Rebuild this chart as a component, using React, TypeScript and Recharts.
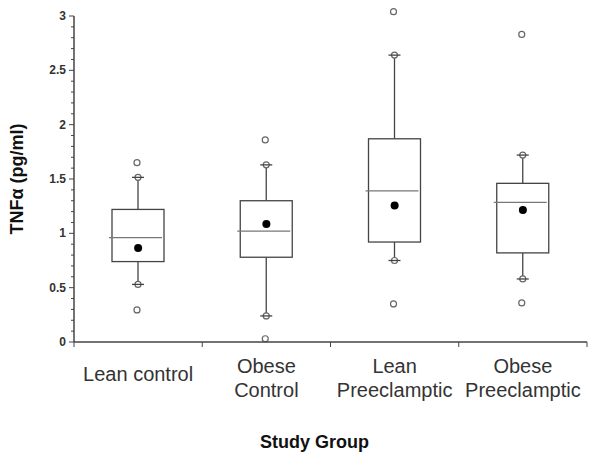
import React from 'react';
import { ComposedChart, Bar, Scatter, XAxis, YAxis } from 'recharts';

const CATEGORIES = ['Lean control', 'Obese\nControl', 'Lean\nPreeclamptic', 'Obese\nPreeclamptic'];
const Q1 = [0.74, 0.78, 0.92, 0.82];
const Q3 = [1.22, 1.3, 1.87, 1.46];
const MEDIAN = [0.96, 1.02, 1.39, 1.285];
const MEAN = [0.865, 1.085, 1.255, 1.215];
const WHISKER_LOW = [0.53, 0.24, 0.75, 0.58];
const WHISKER_HIGH = [1.515, 1.63, 2.64, 1.72];
const OUTLIER_LOW = [0.295, 0.03, 0.35, 0.36];
const OUTLIER_HIGH = [1.65, 1.86, 3.04, 2.83];

const Y_TICKS = [
  0, 0.1, 0.2, 0.3, 0.4, 0.5, 0.6, 0.7, 0.8, 0.9, 1, 1.1, 1.2, 1.3, 1.4, 1.5,
  1.6, 1.7, 1.8, 1.9, 2, 2.1, 2.2, 2.3, 2.4, 2.5, 2.6, 2.7, 2.8, 2.9, 3,
];
// category boundaries (integers) and category centres (halves)
const X_TICKS = [0, 0.5, 1, 1.5, 2, 2.5, 3, 3.5, 4];

const data = CATEGORIES.map((name, i) => ({
  name,
  pos: i + 0.5,
  base: Q1[i],
  iqr: Q3[i] - Q1[i],
  q1: Q1[i],
  q3: Q3[i],
  median: MEDIAN[i],
  mean: MEAN[i],
  wLow: WHISKER_LOW[i],
  wHigh: WHISKER_HIGH[i],
  oLow: OUTLIER_LOW[i],
  oHigh: OUTLIER_HIGH[i],
}));

const FONT = '"Liberation Sans", Arial, sans-serif';
const LINE = '#444';

const BoxShape = (props: any) => {
  const { x, y, width, height, payload } = props;
  if (payload == null || !height) return null;
  const k = height / (payload.q3 - payload.q1);
  const bottom = y + height;
  const py = (v: number) => bottom - (v - payload.q1) * k;
  const cx = x + width / 2;
  const capW = 6;
  return (
    <g>
      <line x1={cx} x2={cx} y1={py(payload.q3)} y2={py(payload.wHigh)} stroke={LINE} strokeWidth={1.3} />
      <line x1={cx} x2={cx} y1={py(payload.q1)} y2={py(payload.wLow)} stroke={LINE} strokeWidth={1.3} />
      <rect x={x} y={y} width={width} height={height} fill="#fff" stroke={LINE} strokeWidth={1.3} />
      <line x1={x - 3} x2={x + width - 2} y1={py(payload.median)} y2={py(payload.median)} stroke="#777" strokeWidth={1.2} />
      {[payload.wHigh, payload.wLow].map((v: number, i: number) => (
        <g key={'w' + i}>
          <circle cx={cx} cy={py(v)} r={3} fill="#fff" stroke="#666" strokeWidth={1.2} />
          <line x1={cx - capW} x2={cx + capW} y1={py(v)} y2={py(v)} stroke={LINE} strokeWidth={1.3} />
        </g>
      ))}
      {[payload.oHigh, payload.oLow].map((v: number, i: number) => (
        <circle key={'o' + i} cx={cx - 1} cy={py(v)} r={3} fill="#fff" stroke="#666" strokeWidth={1.2} />
      ))}
    </g>
  );
};

const MeanShape = (props: any) => {
  const { cx, cy } = props;
  if (cx == null || cy == null) return null;
  return <circle cx={cx} cy={cy} r={4} fill="#000" />;
};

const YTick = (props: any) => {
  const { x, y, payload } = props;
  const v = Number(payload.value);
  const major = Math.abs(v * 2 - Math.round(v * 2)) < 1e-6;
  return (
    <g>
      <line x1={x - (major ? 5 : 3)} x2={x} y1={y} y2={y} stroke={LINE} strokeWidth={1} />
      {major && (
        <text x={x - 8} y={y} dy={4} textAnchor="end" fontFamily={FONT} fontSize={12} fontWeight="bold" fill="#333">
          {String(Number(v.toFixed(1)))}
        </text>
      )}
    </g>
  );
};

const XTick = (props: any) => {
  const { x, y, payload } = props;
  const v = Number(payload.value);
  if (Math.abs(v - Math.round(v)) < 1e-6) {
    return <line x1={x} x2={x} y1={y} y2={y + 5} stroke={LINE} strokeWidth={1} />;
  }
  const label = CATEGORIES[Math.floor(v)] ?? '';
  const lines = label.split('\n');
  const startDy = lines.length === 1 ? 39 : 31;
  return (
    <text x={x} y={y} textAnchor="middle" fontFamily={FONT} fontSize={20} fill="#333">
      {lines.map((l, i) => (
        <tspan key={i} x={x} dy={i === 0 ? startDy : 24}>
          {l}
        </tspan>
      ))}
    </text>
  );
};

export default function App() {
  return (
    <ComposedChart
      width={592}
      height={453}
      data={data}
      margin={{ top: 8, right: 13, bottom: 3, left: 0 }}
      style={{ fontFamily: FONT }}
    >
      <XAxis
        dataKey="pos"
        type="number"
        domain={[0, 4]}
        ticks={X_TICKS}
        interval={0}
        tickSize={0}
        tickMargin={0}
        tickLine={false}
        tick={<XTick />}
        height={116}
        axisLine={{ stroke: LINE, strokeWidth: 1.5 }}
        label={{
          value: 'Study Group',
          position: 'insideBottom',
          offset: 10,
          dx: -16,
          style: { fontFamily: FONT, fontSize: 18, fontWeight: 'bold', fill: '#111' },
        }}
      />
      <YAxis
        type="number"
        domain={[0, 3]}
        ticks={Y_TICKS}
        interval={0}
        width={66}
        tickSize={0}
        tickMargin={0}
        tickLine={false}
        tick={<YTick />}
        axisLine={{ stroke: LINE, strokeWidth: 1.5 }}
        label={{
          value: 'TNFα (pg/ml)',
          angle: -90,
          position: 'center',
          dx: -24,
          style: { fontFamily: FONT, fontSize: 18, fontWeight: 'bold', fill: '#111', textAnchor: 'middle' },
        }}
      />
      <Bar dataKey="base" stackId="box" fill="transparent" barSize={52} isAnimationActive={false} />
      <Bar dataKey="iqr" stackId="box" barSize={52} shape={<BoxShape />} isAnimationActive={false} />
      <Scatter dataKey="mean" shape={<MeanShape />} isAnimationActive={false} />
    </ComposedChart>
  );
}
